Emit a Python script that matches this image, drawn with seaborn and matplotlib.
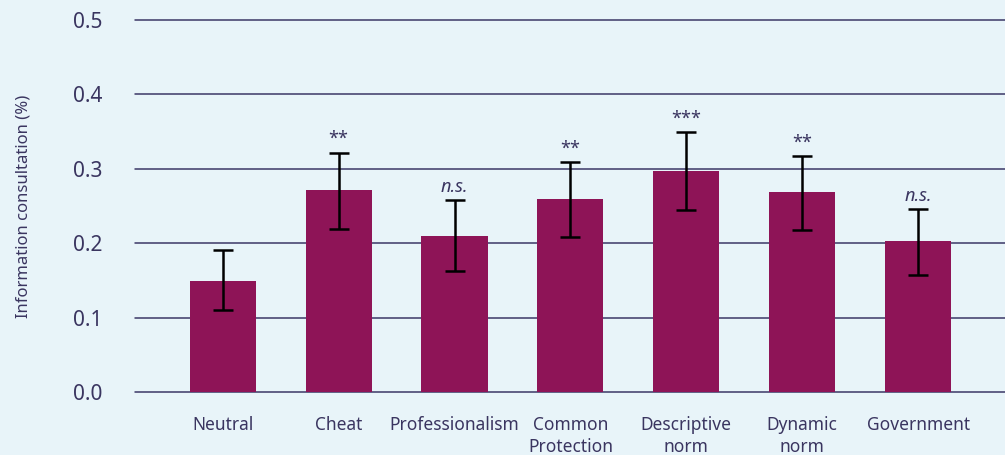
import numpy as np
import pandas as pd
import matplotlib
matplotlib.use('Agg')
import matplotlib.pyplot as plt
import seaborn as sns

# 데이터
categories = ['Neutral', 'Cheat', 'Professionalism', 'Common\nProtection',
              'Descriptive\nnorm', 'Dynamic\nnorm', 'Government']
means = [0.150, 0.271, 0.210, 0.259, 0.297, 0.269, 0.203]
err_low = [0.110, 0.219, 0.163, 0.208, 0.245, 0.218, 0.157]
err_high = [0.191, 0.322, 0.258, 0.309, 0.349, 0.317, 0.246]
signif = ['', '**', 'n.s.', '**', '***', '**', 'n.s.']

bg = '#e8f4f9'
bar_color = '#8e1457'
text_color = '#3a3560'
grid_color = '#3b3766'

sns.set_style('white')
plt.rcParams['font.family'] = ['Noto Sans', 'DejaVu Sans']

df = pd.DataFrame({'group': categories, 'value': means})

fig = plt.figure(figsize=(10.05, 4.55), dpi=100, facecolor=bg)
ax = fig.add_axes([0.134, 0.138, 0.866, 0.818])
ax.set_facecolor(bg)

sns.barplot(data=df, x='group', y='value', color=bar_color, saturation=1,
            width=0.57, errorbar=None, linewidth=0, ax=ax, zorder=3)

x = np.arange(len(categories))
lower = np.array(means) - np.array(err_low)
upper = np.array(err_high) - np.array(means)
ax.errorbar(x, means, yerr=[lower, upper], fmt='none', ecolor='black',
            elinewidth=1.8, capsize=7.5, capthick=1.8, zorder=4)

# 유의성 표시
for xi, top, s in zip(x, err_high, signif):
    if not s:
        continue
    style = 'italic' if s == 'n.s.' else 'normal'
    ax.text(xi, top + 0.006, s, ha='center', va='bottom', fontsize=13,
            style=style, color=text_color, zorder=5)

ax.set_ylim(0, 0.5)
ax.set_xlim(-0.76, 6.75)
ax.set_yticks([0.0, 0.1, 0.2, 0.3, 0.4, 0.5])
ax.set_yticklabels(['0.0', '0.1', '0.2', '0.3', '0.4', '0.5'])
for yv in [0.0, 0.1, 0.2, 0.3, 0.4, 0.5]:
    ax.axhline(yv, color=grid_color, lw=1.1, zorder=1, clip_on=False)

for side in ['top', 'right', 'left', 'bottom']:
    ax.spines[side].set_visible(False)

ax.tick_params(axis='y', length=0, pad=23, labelsize=15, labelcolor=text_color)
ax.tick_params(axis='x', length=0, pad=17, labelsize=12.5, labelcolor=text_color)
for lbl in ax.get_xticklabels():
    lbl.set_linespacing(1.3)

ax.set_xlabel('')
ax.set_ylabel('Information consultation (%)', fontsize=12, color=text_color,
              labelpad=30)

fig.savefig('out.png', dpi=100, facecolor=bg)
